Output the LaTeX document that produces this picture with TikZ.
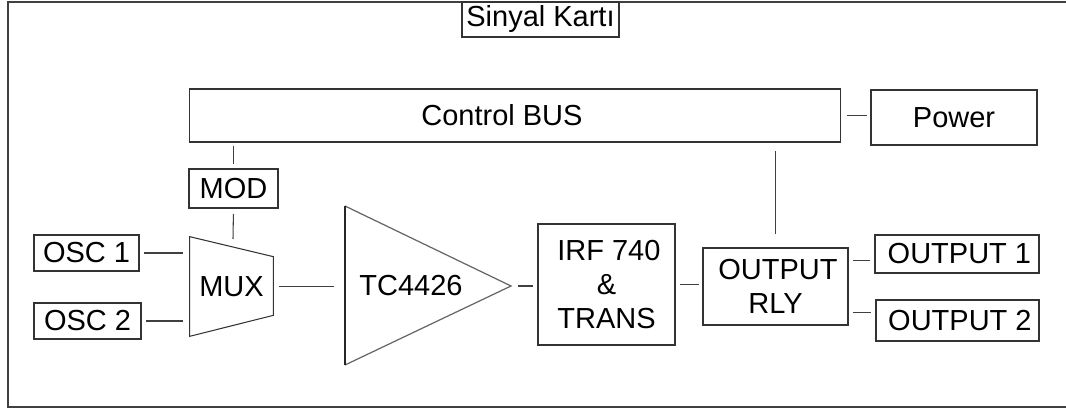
\documentclass[tikz,border=0pt]{standalone}
\usepackage{fontspec}
\setmainfont{Liberation Sans}
\usepackage{tikz}
\usetikzlibrary{calc,positioning}
\tikzset{box/.style={draw=black!80,line width=0.6pt,inner sep=0pt,outer sep=0pt,align=center},
  wire/.style={draw=black!75,line width=0.6pt,shorten <=0.1cm,shorten >=0.1cm}}

\begin{document}
\begin{tikzpicture}[x=0.02cm,y=-0.02cm,font=\fontsize{16.5pt}{19.5pt}\selectfont]
\useasboundingbox (0,0) rectangle (1066,412);
% card outline
\draw[black!75,line width=0.6pt] (1066,2)--(8,2)--(8,407)--(1066,407);
\node[box,minimum width=3.14cm,minimum height=0.70cm] (card) at (540.5,19.5) {Sinyal Kartı};
% bus and supply
\node[box,minimum width=13.04cm,minimum height=1.06cm,label={[xshift=-0.26cm]center:Control BUS}] (bus) at (515,115.5) {};
\node[box,minimum width=3.32cm,minimum height=1.10cm] (pwr) at (954,117.5) {Power};
\node[box,minimum width=1.78cm,minimum height=0.78cm] (mod) at (233.5,188.5) {MOD};
% oscillators
\node[box,minimum width=2.10cm,minimum height=0.72cm] (osc1) at (86.5,253) {OSC 1};
\node[box,minimum width=2.14cm,minimum height=0.72cm] (osc2) at (87.5,321) {OSC 2};
% mux (trapezoid)
\node[minimum width=1.66cm,minimum height=1.98cm,inner sep=0pt] (mux) at (231.5,286.5) {MUX};
\draw[black!80,line width=0.6pt] (mux.north west)--($(mux.north east)+(0,20)$)--($(mux.south east)+(0,-21)$)--(mux.south west)--cycle;
\coordinate (muxtop) at (233,239);
% driver (triangle)
\coordinate (drvtop) at (345,206); \coordinate (drvbot) at (345,365); \coordinate (drvtip) at (511,286);
\draw[black!60,line width=0.7pt] (drvtop)--(drvtip)--(drvbot);
\draw[black!85,line width=1.1pt] (drvtop)--(drvbot);
\node (drv) at (411,286) {TC4426};
% power stage and relay
\node[box,minimum width=2.74cm,minimum height=2.42cm] (irf) at (606.5,284.5) {\,IRF 740\\\&\\TRANS};
\node[box,minimum width=2.90cm,minimum height=1.54cm] (rly) at (775.5,286.5) {\,OUTPUT\\RLY};
\node[box,minimum width=3.28cm,minimum height=0.76cm] (out1) at (957,254) {\,OUTPUT 1};
\node[box,minimum width=3.26cm,minimum height=0.82cm] (out2) at (957.5,320.5) {\,OUTPUT 2};
% wiring
\draw[wire,shorten <=0.12cm,shorten >=0.08cm] (bus.east)--(bus.east -| pwr.west);
\draw[wire,shorten <=0.08cm] (bus.south -| mod.north)--(mod.north);
\draw[wire,shorten <=0.12cm,shorten >=0cm] (mod.south)--(muxtop);
\foreach \o in {osc1,osc2}{\draw[wire,shorten >=0.14cm] (\o.east)--(\o.east -| mux.west);}
\draw[wire,shorten <=0.12cm,shorten >=0.22cm] (mux.east)--(mux.east -| drvtop);
\draw[wire,shorten <=0.14cm] (drvtip)--(drvtip -| irf.west);
\draw[wire,shorten >=0.08cm] (irf.east)--(irf.east -| rly.west);
\draw[wire,shorten <=0.18cm,shorten >=0.28cm] (bus.south -| rly.north)--(rly.north);
\draw[wire] ($(rly.east)+(0,-26)$)--($(rly.east -| out1.west)+(0,-26)$);
\draw[wire] ($(rly.east)+(0,26)$)--($(rly.east -| out2.west)+(0,26)$);
\end{tikzpicture}
\end{document}
